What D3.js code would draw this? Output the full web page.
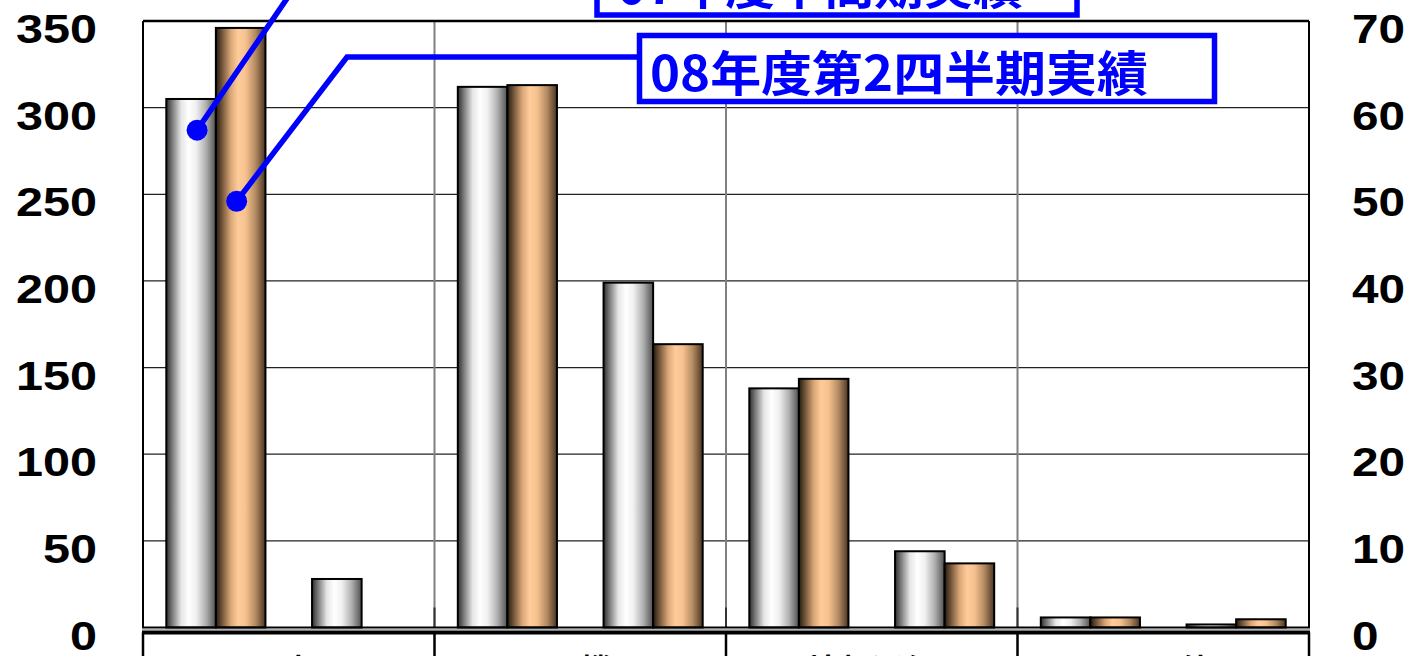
<!DOCTYPE html>
<html><head><meta charset="utf-8">
<script src="https://cdn.jsdelivr.net/npm/d3@7"></script>
<style>
html,body{margin:0;padding:0;background:#fff;overflow:hidden;}
svg{display:block;}
</style></head>
<body>
<svg id="chart" width="1420" height="656"></svg>
<script>
// ---- data ----
const categories = ["電子部品", "電子機器", "情報通信", "その他"];
const seriesNames = ["07年度中間期実績", "08年度第2四半期実績"];
const leftTicks = [0, 50, 100, 150, 200, 250, 300, 350];
const rightTicks = [0, 10, 20, 30, 40, 50, 60, 70];
// left-axis pair (first half of each group)
const leftSeries07 = [305, 312, 138, 5.8];
const leftSeries08 = [346, 313, 143.5, 5.8];
// right-axis pair (second half of each group)
const rightSeries07 = [5.6, 39.8, 8.8, 0.35];
const rightSeries08 = [null, 32.7, 7.4, 0.95];
// callout anchors (group 0, left pair), in left-axis units
const calloutAnchors = [287, 246];

const svg = d3.select("#chart");
const plot = {left: 143, right: 1309, top: 21, bottom: 627.5};

const x0 = d3.scaleBand().domain(categories).range([plot.left, plot.right]).padding(0);
const x1 = d3.scaleBand().domain(["L", "R"]).range([0, x0.bandwidth()]).padding(0);
const x2 = d3.scaleBand().domain(seriesNames).range([0, x1.bandwidth()]).paddingInner(0).paddingOuter(0.47);
const yL = d3.scaleLinear().domain([0, 350]).range([plot.bottom, plot.top]);
const yR = d3.scaleLinear().domain([0, 70]).range([plot.bottom, plot.top]);

// gradients
const defs = svg.append("defs");
function grad(id, stops) {
  const g = defs.append("linearGradient").attr("id", id).attr("x1", "0%").attr("x2", "100%").attr("y1", "0%").attr("y2", "0%");
  stops.forEach(s => g.append("stop").attr("offset", s[0]).attr("stop-color", s[1]));
}
grad("gWhite", [["0%", "#2e2e2e"], ["12%", "#7a7a7a"], ["30%", "#e6e6e6"], ["45%", "#ffffff"], ["60%", "#f0f0f0"], ["80%", "#b0b0b0"], ["100%", "#505050"]]);
grad("gOrange", [["0%", "#241a10"], ["12%", "#6e5236"], ["30%", "#d9a677"], ["45%", "#ffcc99"], ["60%", "#f6c18f"], ["80%", "#b38a62"], ["100%", "#4a3522"]]);

// horizontal gridlines
svg.append("g").selectAll("line").data(leftTicks.filter(d => d > 0 && d < 350)).join("line")
  .attr("x1", plot.left).attr("x2", plot.right)
  .attr("y1", d => yL(d)).attr("y2", d => yL(d))
  .attr("stroke", "#222").attr("stroke-width", 1.3);

// vertical gridlines (group boundaries)
svg.append("g").selectAll("line").data(categories.slice(1)).join("line")
  .attr("x1", d => x0(d)).attr("x2", d => x0(d))
  .attr("y1", plot.top).attr("y2", plot.bottom)
  .attr("stroke", "#808080").attr("stroke-width", 2);
svg.append("g").selectAll("line").data(categories.slice(1)).join("line")
  .attr("x1", d => x0(d)).attr("x2", d => x0(d))
  .attr("y1", plot.bottom - 20).attr("y2", plot.bottom)
  .attr("stroke", "#333").attr("stroke-width", 2);

// bars
const barData = [];
categories.forEach((c, i) => {
  [[leftSeries07, leftSeries08, "L", yL], [rightSeries07, rightSeries08, "R", yR]].forEach(([a, b, side, ys]) => {
    [[a[i], seriesNames[0], "url(#gWhite)"], [b[i], seriesNames[1], "url(#gOrange)"]].forEach(([v, s, fill]) => {
      if (v == null) return;
      barData.push({x: x0(c) + x1(side) + x2(s), y: ys(v), h: plot.bottom - ys(v), fill});
    });
  });
});
svg.append("g").selectAll("rect").data(barData).join("rect")
  .attr("x", d => d.x).attr("y", d => d.y)
  .attr("width", x2.bandwidth()).attr("height", d => d.h)
  .attr("fill", d => d.fill).attr("stroke", "#000").attr("stroke-width", 2);

// plot frame
svg.append("line").attr("x1", plot.left).attr("x2", plot.right).attr("y1", plot.top).attr("y2", plot.top).attr("stroke", "#000").attr("stroke-width", 2.5);
svg.append("line").attr("x1", plot.left).attr("x2", plot.left).attr("y1", plot.top).attr("y2", plot.bottom).attr("stroke", "#000").attr("stroke-width", 2);
svg.append("line").attr("x1", plot.right).attr("x2", plot.right).attr("y1", plot.top).attr("y2", plot.bottom).attr("stroke", "#000").attr("stroke-width", 2);
svg.append("line").attr("x1", plot.left - 1).attr("x2", plot.right + 1).attr("y1", plot.bottom).attr("y2", plot.bottom).attr("stroke", "#000").attr("stroke-width", 2.2);

// category table below
const tableTop = 632.5;
svg.append("line").attr("x1", plot.left - 1).attr("x2", plot.right + 1).attr("y1", 629.6).attr("y2", 629.6).attr("stroke", "#aaa").attr("stroke-width", 1);
svg.append("line").attr("x1", plot.left - 1).attr("x2", plot.right + 1).attr("y1", tableTop).attr("y2", tableTop).attr("stroke", "#000").attr("stroke-width", 4);
const seps = categories.map(c => x0(c)).concat([plot.right]);
svg.append("g").selectAll("line").data(seps).join("line")
  .attr("x1", d => d).attr("x2", d => d).attr("y1", tableTop).attr("y2", 660)
  .attr("stroke", "#000").attr("stroke-width", 2.5);
svg.append("g").selectAll("text").data(categories).join("text")
  .attr("x", d => x0(d) + x0.bandwidth() / 2).attr("y", 682)
  .attr("text-anchor", "middle").attr("font-family", "Noto Sans CJK JP")
  .attr("font-weight", "bold").attr("font-size", 32).attr("fill", "#000")
  .text(d => d);

// axes labels
const axisFont = "Liberation Sans, Arial, sans-serif";
svg.append("g").selectAll("text").data(leftTicks).join("text")
  .attr("x", 97).attr("y", d => yL(d) + 8)
  .attr("text-anchor", "end").attr("dominant-baseline", "central")
  .attr("font-family", axisFont).attr("font-weight", "bold").attr("font-size", 40)
  .attr("textLength", d => String(d).length * 27).attr("lengthAdjust", "spacingAndGlyphs")
  .text(d => d);
svg.append("g").selectAll("text").data(rightTicks).join("text")
  .attr("x", 1352).attr("y", d => yR(d) + 8)
  .attr("text-anchor", "start").attr("dominant-baseline", "central")
  .attr("font-family", axisFont).attr("font-weight", "bold").attr("font-size", 40)
  .attr("textLength", d => String(d).length * 26.5).attr("lengthAdjust", "spacingAndGlyphs")
  .text(d => d);

// callouts
const blue = "#0000ff";
const g0 = categories[0];
const anchor1 = [x0(g0) + x1("L") + x2(seriesNames[0]) + x2.bandwidth() / 2 + 6, yL(calloutAnchors[0])];
const anchor2 = [x0(g0) + x1("L") + x2(seriesNames[1]) + x2.bandwidth() / 2 - 4, yL(calloutAnchors[1])];
const box1 = {x: 597, y: -56, w: 480, h: 71};
const box2 = {x: 639.5, y: 35.5, w: 575, h: 66};
const line = d3.line();
svg.append("path").attr("d", line([anchor1, [anchor1[0] + 0.683 * (anchor1[1] + 20), -20], [box1.x, -20]]))
  .attr("fill", "none").attr("stroke", blue).attr("stroke-width", 5.5).attr("stroke-linejoin", "miter");
svg.append("path").attr("d", line([anchor2, [347, 57], [box2.x, 57]]))
  .attr("fill", "none").attr("stroke", blue).attr("stroke-width", 5.5).attr("stroke-linejoin", "miter");
svg.append("circle").attr("cx", anchor1[0]).attr("cy", anchor1[1]).attr("r", 10.5).attr("fill", blue);
svg.append("circle").attr("cx", anchor2[0]).attr("cy", anchor2[1]).attr("r", 10.5).attr("fill", blue);

[[box1, seriesNames[0], 617, 406], [box2, seriesNames[1], 650, 498]].forEach(([b, t, tx, tl]) => {
  svg.append("rect").attr("x", b.x).attr("y", b.y).attr("width", b.w).attr("height", b.h)
    .attr("fill", "#fff").attr("stroke", blue).attr("stroke-width", 5.5);
  svg.append("text").attr("x", tx).attr("y", b.y + b.h - 11)
    .attr("font-family", "Noto Sans CJK JP").attr("font-weight", "bold").attr("font-size", 48)
    .attr("fill", blue).attr("textLength", tl).attr("lengthAdjust", "spacingAndGlyphs")
    .text(t);
});
</script>
</body></html>
